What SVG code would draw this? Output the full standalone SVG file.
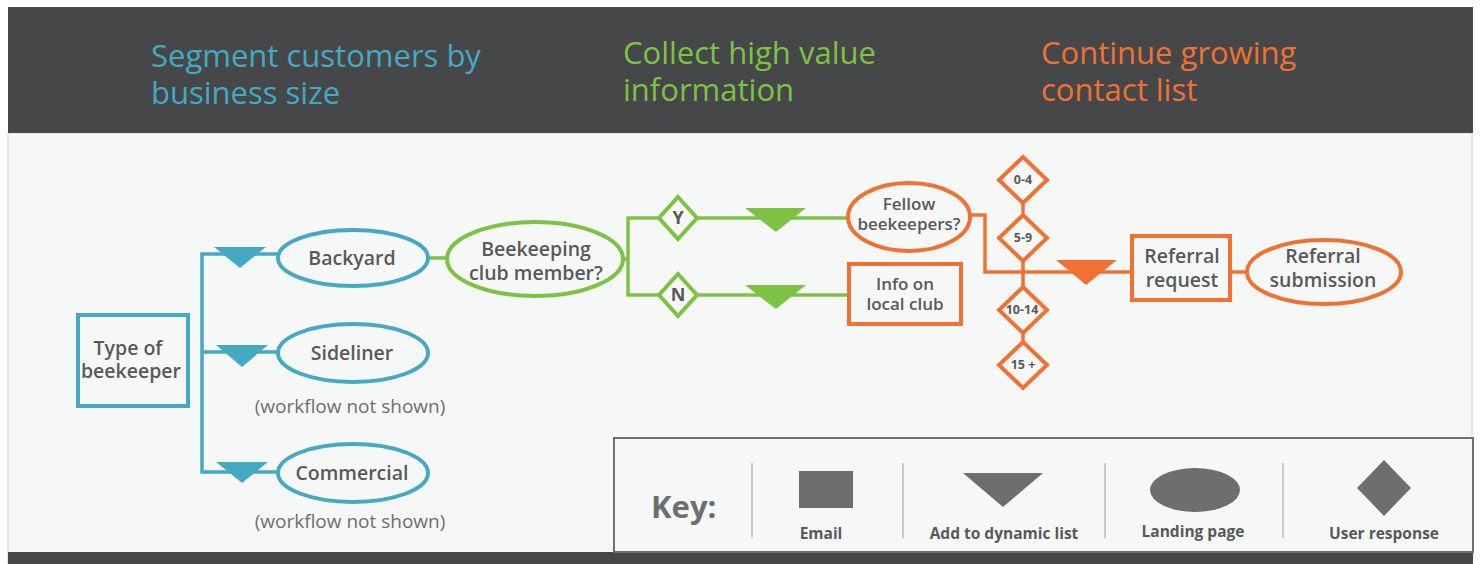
<svg xmlns="http://www.w3.org/2000/svg" width="1480" height="564" viewBox="0 0 1480 564">
<defs>
<style>
.title{font-family:"Open Sans","Liberation Sans",sans-serif;font-size:31px;}
.nt{font-family:"Open Sans","Liberation Sans",sans-serif;font-size:19.5px;font-weight:600;fill:#58595b;text-anchor:middle;}
.st{font-family:"Open Sans","Liberation Sans",sans-serif;font-size:17px;font-weight:600;fill:#58595b;text-anchor:middle;}
.dt{font-family:"Open Sans","Liberation Sans",sans-serif;font-size:12.5px;font-weight:700;fill:#58595b;text-anchor:middle;}
.yn{font-family:"Open Sans","Liberation Sans",sans-serif;font-size:18px;font-weight:700;fill:#58595b;text-anchor:middle;}
.note{font-family:"Open Sans","Liberation Sans",sans-serif;font-size:19px;fill:#6d6e70;text-anchor:middle;}
.kt{font-family:"Open Sans","Liberation Sans",sans-serif;font-size:15.5px;font-weight:700;fill:#58595b;text-anchor:middle;}
.teal{fill:#f6f8f7;stroke:#45a9c1;stroke-width:4;}
.green{fill:#f6f8f7;stroke:#7dc243;stroke-width:4;}
.orange{fill:#f6f8f7;stroke:#f07132;stroke-width:4;}
.tl{fill:none;stroke:#45a9c1;stroke-width:3.5;}
.gl{fill:none;stroke:#7dc243;stroke-width:3.5;}
.ol{fill:none;stroke:#f07132;stroke-width:3.5;}
.key{fill:#6d6e70;}
.div{stroke:#c9cacb;stroke-width:2;}
</style>
</defs>
<rect x="0" y="0" width="1480" height="564" fill="#ffffff"/>
<rect x="8" y="133" width="1464" height="431" fill="#f6f8f7" stroke="#dcdedd" stroke-width="1.5"/>
<rect x="8" y="7" width="1465" height="126" fill="#464749"/>
<rect x="8" y="552" width="1465" height="12" fill="#464749"/>
<g id="titles">
<text class="title" fill="#45a9c1"><tspan x="151" y="67">Segment customers by</tspan><tspan x="151" y="104">business size</tspan></text>
<text class="title" fill="#7dc243"><tspan x="623" y="64">Collect high value</tspan><tspan x="623" y="101">information</tspan></text>
<text class="title" fill="#f07132"><tspan x="1041" y="64">Continue growing</tspan><tspan x="1041" y="101">contact list</tspan></text>
</g>
<g id="connectors">
<path class="tl" d="M278,254 H202 V472 H278 M202,352 H278"/>
<polygon points="214,247 266,247 240,268" fill="#45a9c1"/>
<polygon points="216,345 268,345 242,367" fill="#45a9c1"/>
<polygon points="216,462 268,462 242,483" fill="#45a9c1"/>
<path class="gl" d="M428,258 H448 M623,259 H628 M659,218 H628 V295 H659 M697,218 H848 M697,295 H849"/>
<polygon points="745,208 806,208 776,232" fill="#7dc243"/>
<polygon points="745,285 806,285 776,309" fill="#7dc243"/>
<path class="ol" d="M969,215 H985 V272 H1132 M1023,202 V213 M1023,261 V287 M1023,333 V342 M1230,272 H1247"/>
<polygon points="1056,260 1117,260 1086,285" fill="#f07132"/>
</g>
<g id="type-of-beekeeper">
<rect class="teal" x="78" y="315" width="110" height="91"/>
<text class="nt"><tspan x="128" y="355">Type of</tspan><tspan x="131" y="378">beekeeper</tspan></text>
</g>
<g id="backyard">
<ellipse class="teal" cx="353" cy="258" rx="75" ry="28"/>
<text class="nt" x="352" y="265">Backyard</text>
</g>
<g id="sideliner">
<ellipse class="teal" cx="353" cy="353" rx="75" ry="29"/>
<text class="nt" x="352" y="360">Sideliner</text>
<text class="note" x="350" y="413">(workflow not shown)</text>
</g>
<g id="commercial">
<ellipse class="teal" cx="353" cy="473" rx="75" ry="29"/>
<text class="nt" x="352" y="480">Commercial</text>
<text class="note" x="350" y="528">(workflow not shown)</text>
</g>
<g id="beekeeping-club">
<ellipse class="green" cx="535" cy="259" rx="88" ry="37"/>
<text class="nt"><tspan x="536" y="256">Beekeeping</tspan><tspan x="536" y="280">club member?</tspan></text>
</g>
<g id="yes">
<polygon class="green" points="678,197 697,218 678,239 659,218"/>
<text class="yn" x="678" y="224">Y</text>
</g>
<g id="no">
<polygon class="green" points="678,274 697,295 678,316 659,295"/>
<text class="yn" x="678" y="301">N</text>
</g>
<g id="fellow-beekeepers">
<ellipse class="orange" cx="909" cy="217" rx="61" ry="34"/>
<text class="st"><tspan x="909" y="210">Fellow</tspan><tspan x="909" y="230">beekeepers?</tspan></text>
</g>
<g id="info-local-club">
<rect class="orange" x="849" y="264" width="112" height="60"/>
<text class="st"><tspan x="905" y="290">Info on</tspan><tspan x="905" y="310">local club</tspan></text>
</g>
<g id="d-0-4">
<polygon class="orange" points="1023,157 1047,180 1023,203 999,180"/>
<text class="dt" x="1023" y="184">0-4</text>
</g>
<g id="d-5-9">
<polygon class="orange" points="1023,215 1047,238 1023,261 999,238"/>
<text class="dt" x="1023" y="242">5-9</text>
</g>
<g id="d-10-14">
<polygon class="orange" points="1023,287 1047,310 1023,333 999,310"/>
<text class="dt" x="1022" y="314">10-14</text>
</g>
<g id="d-15">
<polygon class="orange" points="1023,342 1047,365 1023,388 999,365"/>
<text class="dt" x="1023" y="369">15 +</text>
</g>
<g id="referral-request">
<rect class="orange" x="1132" y="236" width="98" height="64"/>
<text class="nt"><tspan x="1182" y="263">Referral</tspan><tspan x="1182" y="287">request</tspan></text>
</g>
<g id="referral-submission">
<ellipse class="orange" cx="1324" cy="272" rx="77" ry="32"/>
<text class="nt"><tspan x="1323" y="263">Referral</tspan><tspan x="1323" y="287">submission</tspan></text>
</g>
<g id="key">
<rect x="614" y="438" width="859" height="114" fill="#f6f8f7" stroke="#6d6e70" stroke-width="2"/>
<text x="651" y="518" font-family="Open Sans, Liberation Sans, sans-serif" font-size="31" font-weight="700" fill="#6d6e70">Key:</text>
<line class="div" x1="752" y1="463" x2="752" y2="538"/>
<line class="div" x1="903" y1="463" x2="903" y2="538"/>
<line class="div" x1="1105" y1="463" x2="1105" y2="538"/>
<line class="div" x1="1283" y1="463" x2="1283" y2="538"/>
<rect class="key" x="799" y="471" width="54" height="37"/>
<text class="kt" x="821" y="539">Email</text>
<polygon class="key" points="963,473 1043,473 1003,507"/>
<text class="kt" x="1004" y="539">Add to dynamic list</text>
<ellipse class="key" cx="1195" cy="490" rx="45" ry="22"/>
<text class="kt" x="1193" y="537">Landing page</text>
<polygon class="key" points="1384,460 1411,488 1384,516 1357,488"/>
<text class="kt" x="1384" y="539">User response</text>
</g>
</svg>
